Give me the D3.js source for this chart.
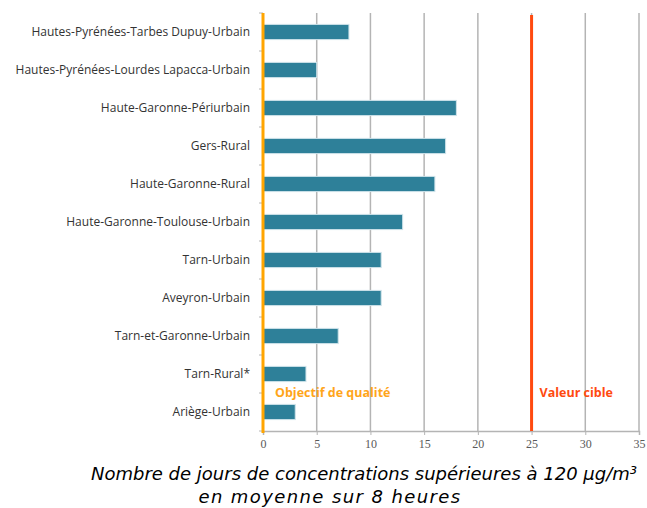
<!DOCTYPE html>
<html>
<head>
<meta charset="utf-8">
<script src="https://cdn.jsdelivr.net/npm/d3@7"></script>
<style>
  body { margin: 0; background: #fff; }
  svg text { font-family: "Open Sans", "Liberation Sans", sans-serif; }
</style>
</head>
<body>
<div id="chart"></div>
<script>
// Données : nombre de jours > 120 µg/m3 (moyenne sur 8 h)
const stations = [
    'Hautes-Pyrénées-Tarbes Dupuy-Urbain',
    'Hautes-Pyrénées-Lourdes Lapacca-Urbain',
    'Haute-Garonne-Périurbain',
    'Gers-Rural',
    'Haute-Garonne-Rural',
    'Haute-Garonne-Toulouse-Urbain',
    'Tarn-Urbain',
    'Aveyron-Urbain',
    'Tarn-et-Garonne-Urbain',
    'Tarn-Rural*',
    'Ariège-Urbain'
];
const jours = [8, 5, 18, 17, 16, 13, 11, 11, 7, 4, 3];
const xTicks = [0, 5, 10, 15, 20, 25, 30, 35];
const objectifQualite = 0;
const valeurCible = 25;
const titre = ['Nombre de jours de concentrations supérieures à 120 µg/m³', 'en moyenne sur 8 heures'];

const width = 647, height = 508;
const margin = { top: 13, right: 8, bottom: 77, left: 263 };

const svg = d3.select('#chart').append('svg')
    .attr('width', width)
    .attr('height', height);

const x = d3.scaleLinear().domain([0, 35]).range([margin.left, 639]);
const y = d3.scaleBand().domain(stations).range([margin.top, height - margin.bottom]).paddingInner(0.6).paddingOuter(0.3);
const yOuter = d3.scaleBand().domain(stations).range([margin.top, height - margin.bottom]);

// Grille verticale
svg.append('g')
    .selectAll('line')
    .data(xTicks.filter(d => d > 0))
    .enter()
    .append('line')
    .attr('x1', d => x(d)).attr('x2', d => x(d))
    .attr('y1', margin.top).attr('y2', height - margin.bottom)
    .attr('stroke', '#b4b4b4')
    .attr('stroke-width', 1.5);

// Axe X
const xAxis = svg.append('g')
    .attr('transform', `translate(0,${height - margin.bottom})`)
    .call(d3.axisBottom(x).tickValues(xTicks).tickSize(4).tickPadding(4));
xAxis.select('.domain').attr('stroke', '#b4b4b4').attr('stroke-width', 1.5);
xAxis.selectAll('.tick line').attr('stroke', '#b4b4b4');
xAxis.selectAll('.tick text')
    .attr('fill', '#595959')
    .attr('font-size', 12)
    .style('font-family', '"Liberation Serif", serif');

// Petites graduations à gauche (limites des catégories)
svg.append('g')
    .selectAll('line')
    .data(stations.concat(['__fin']))
    .enter()
    .append('line')
    .attr('x1', margin.left - 4).attr('x2', margin.left)
    .attr('y1', (d, i) => margin.top + i * yOuter.step())
    .attr('y2', (d, i) => margin.top + i * yOuter.step())
    .attr('stroke', '#b4b4b4');

// Barres
svg.append('g')
    .selectAll('rect')
    .data(jours)
    .enter()
    .append('rect')
    .attr('x', x(0))
    .attr('y', (d, i) => y(stations[i]))
    .attr('width', d => x(d) - x(0))
    .attr('height', y.bandwidth())
    .attr('fill', '#2e8099')
    .attr('stroke', '#cfe3ea')
    .attr('stroke-width', 1);

// Libellés des stations
svg.append('g')
    .selectAll('text')
    .data(stations)
    .enter()
    .append('text')
    .attr('x', 250)
    .attr('y', d => yOuter(d) + yOuter.bandwidth() / 2)
    .attr('dy', '0.35em')
    .attr('text-anchor', 'end')
    .attr('font-size', 12)
    .attr('fill', '#333')
    .text(d => d);

// Seuils
svg.append('line')
    .attr('x1', x(objectifQualite)).attr('x2', x(objectifQualite))
    .attr('y1', margin.top).attr('y2', height - margin.bottom + 2)
    .attr('stroke', '#ffa500')
    .attr('stroke-width', 3);
svg.append('line')
    .attr('x1', x(valeurCible)).attr('x2', x(valeurCible))
    .attr('y1', margin.top + 2).attr('y2', height - margin.bottom)
    .attr('stroke', '#ff4a0f')
    .attr('stroke-width', 3);

svg.append('text')
    .attr('x', x(objectifQualite) + 12)
    .attr('y', 397)
    .attr('font-size', 12.5)
    .attr('font-weight', 'bold')
    .attr('fill', '#ffa51a')
    .text('Objectif de qualité');
svg.append('text')
    .attr('x', x(valeurCible) + 8)
    .attr('y', 397)
    .attr('font-size', 12.5)
    .attr('font-weight', 'bold')
    .attr('fill', '#ff4a0f')
    .text('Valeur cible');

// Titre de l'axe (deux lignes, centrées séparément comme dans l'original)
const titreX = [364, 330];
const titreY = [480, 503];
svg.append('g')
    .selectAll('text')
    .data(titre)
    .enter()
    .append('text')
    .attr('x', (d, i) => titreX[i])
    .attr('y', (d, i) => titreY[i])
    .attr('text-anchor', 'middle')
    .attr('font-size', 18)
    .attr('font-style', 'italic')
    .attr('fill', '#000')
    .style('font-family', '"DejaVu Sans", sans-serif')
    .style('letter-spacing', (d, i) => i === 1 ? '1.4px' : null)
    .text(d => d);
</script>
</body>
</html>
